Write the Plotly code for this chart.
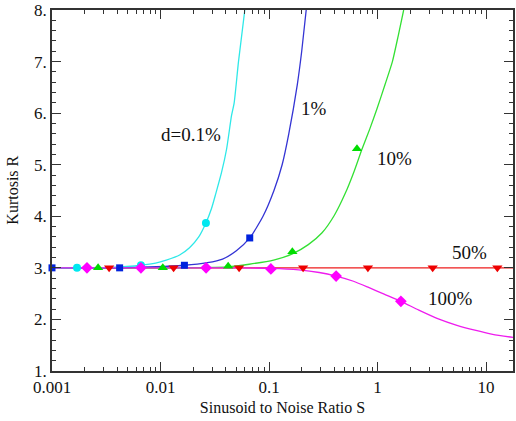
import math
import plotly.graph_objects as go

# ---- curve data ----
cyan_S = [0.001, 0.0017, 0.0035, 0.0066, 0.0090, 0.0113, 0.0150, 0.0185, 0.0225, 0.0262, 0.0295, 0.0324, 0.0365, 0.0406, 0.0451, 0.0477, 0.0523, 0.0598]
cyan_R = [3.0, 3.0, 3.01, 3.05, 3.09, 3.15, 3.25, 3.39, 3.6, 3.87, 4.15, 4.45, 4.85, 5.3, 5.95, 6.2, 7.0, 8.0]

blue_S = [0.001, 0.0042, 0.0166, 0.0270, 0.0373, 0.0500, 0.0664, 0.088, 0.111, 0.132, 0.152, 0.182, 0.20, 0.22]
blue_R = [3.0, 3.0, 3.05, 3.1, 3.17, 3.33, 3.58, 4.0, 4.5, 5.0, 5.6, 6.55, 7.2, 8.0]

green_S = [0.001, 0.01, 0.042, 0.0656, 0.11, 0.164, 0.23, 0.308, 0.40, 0.505, 0.61, 0.718, 0.85, 0.986, 1.17, 1.37, 1.55, 1.74]
green_R = [3.0, 3.0, 3.02, 3.07, 3.15, 3.27, 3.45, 3.68, 4.02, 4.45, 4.88, 5.3, 5.7, 6.08, 6.55, 7.0, 7.5, 8.0]

red_S = [0.001, 17.7]
red_R = [3.0, 3.0]

magenta_S = [0.001, 0.01, 0.05, 0.104, 0.188, 0.29, 0.415, 0.60, 0.826, 1.15, 1.64, 2.4, 3.63, 5.3, 7.88, 11.5, 17.7]
magenta_R = [3.0, 3.0, 3.0, 2.99, 2.96, 2.91, 2.84, 2.74, 2.62, 2.49, 2.35, 2.18, 2.01, 1.89, 1.79, 1.71, 1.65]

# ---- marker data ----
cyan_pts_S = [0.0017, 0.0066, 0.0262]
cyan_pts_R = [3.0, 3.05, 3.87]
blue_pts_S = [0.001, 0.0042, 0.0166, 0.0664]
blue_pts_R = [3.0, 3.0, 3.05, 3.58]
green_pts_S = [0.00266, 0.0105, 0.042, 0.164, 0.646]
green_pts_R = [3.0, 3.0, 3.03, 3.31, 5.31]
red_pts_S = [0.00336, 0.0132, 0.053, 0.206, 0.815, 3.22, 12.7]
red_pts_R = [3.0, 3.0, 3.0, 3.0, 3.0, 3.0, 3.0]
magenta_pts_S = [0.0021, 0.0066, 0.0263, 0.104, 0.415, 1.64]
magenta_pts_R = [3.0, 3.0, 3.0, 2.98, 2.84, 2.35]

# ---- labels ----
label_text = ["d=0.1%", "1%", "10%", "50%", "100%"]
label_S = [0.0191, 0.262, 1.42, 7.08, 4.74]
label_R = [5.59, 6.10, 5.12, 3.29, 2.41]

x_tickvals = [0.001, 0.01, 0.1, 1, 10]
x_ticktext = ["0.001", "0.01", "0.1", "1", "10"]
y_tickvals = [1, 2, 3, 4, 5, 6, 7, 8]
y_ticktext = ["1.", "2.", "3.", "4.", "5.", "6.", "7.", "8."]

SERIF = "Liberation Serif, Times New Roman, DejaVu Serif, serif"

C_CYAN, C_BLUE, C_GREEN, C_RED, C_MAG = "#2ee8e8", "#3434d4", "#33e033", "#ee1c1c", "#ee1cee"
M_CYAN, M_BLUE, M_GREEN, M_RED, M_MAG = "#00e8f0", "#0022dd", "#00dd00", "#ee0000", "#ff00ff"

fig = go.Figure()
for S, R, c in [(red_S, red_R, C_RED), (green_S, green_R, C_GREEN), (blue_S, blue_R, C_BLUE),
                (cyan_S, cyan_R, C_CYAN), (magenta_S, magenta_R, C_MAG)]:
    fig.add_trace(go.Scatter(x=S, y=R, mode="lines",
                             line=dict(color=c, width=1.3, shape="spline", smoothing=0.6),
                             showlegend=False, hoverinfo="skip"))

for S, R, c, sym, sz in [(cyan_pts_S, cyan_pts_R, M_CYAN, "circle", 8),
                          (green_pts_S, green_pts_R, M_GREEN, "triangle-up", 9),
                          (red_pts_S, red_pts_R, M_RED, "triangle-down", 9),
                          (magenta_pts_S, magenta_pts_R, M_MAG, "diamond", 9),
                          (blue_pts_S, blue_pts_R, M_BLUE, "square", 7)]:
    fig.add_trace(go.Scatter(x=S, y=R, mode="markers",
                             marker=dict(color=c, symbol=sym, size=sz, line=dict(width=0)),
                             showlegend=False, cliponaxis=False, hoverinfo="skip"))

for t, s, r in zip(label_text, label_S, label_R):
    fig.add_annotation(x=math.log10(s), y=r, text=t, showarrow=False,
                       font=dict(family=SERIF, size=19, color="#111"))

# y-axis title placed as a rotated annotation to sit near the left edge
fig.add_annotation(xref="paper", yref="paper", x=-40 / 463, y=0.5, text="Kurtosis R",
                   textangle=-90, showarrow=False, xanchor="center", yanchor="middle",
                   font=dict(family=SERIF, size=16, color="#111"))

axis_common = dict(showline=True, linecolor="#333", linewidth=1.5, mirror="allticks",
                   ticks="inside", ticklen=9, tickwidth=1.3, tickcolor="#333",
                   showgrid=False, zeroline=False, ticklabeloverflow="allow",
                   tickfont=dict(family=SERIF, size=17, color="#111"))

fig.update_layout(
    width=516, height=421,
    margin=dict(l=52, r=1, t=7, b=50),
    paper_bgcolor="white", plot_bgcolor="white",
    font=dict(family=SERIF),
    xaxis=dict(type="log", range=[-3, 1.248], tickmode="array", tickvals=x_tickvals, ticktext=x_ticktext,
               minor=dict(ticks="inside", ticklen=4, tickwidth=1, tickcolor="#333", dtick="D1", showgrid=False),
               title=dict(text="Sinusoid to Noise Ratio S", standoff=6,
                          font=dict(family=SERIF, size=16, color="#111")),
               **axis_common),
    yaxis=dict(range=[0.9995, 8.0005], tickmode="array", tickvals=y_tickvals, ticktext=y_ticktext,
               minor=dict(ticks="inside", ticklen=4, tickwidth=1, tickcolor="#333", dtick=0.2, showgrid=False),
               **axis_common),
)

fig.write_html("out.html", config={"displayModeBar": False},
               post_script="document.body.style.margin='0';document.body.style.padding='0';")
